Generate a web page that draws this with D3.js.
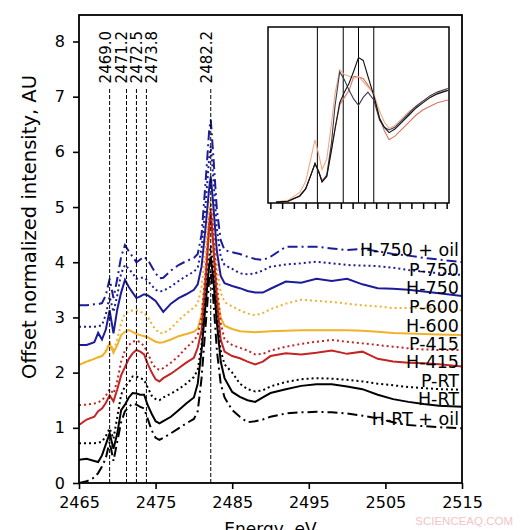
<!DOCTYPE html>
<html>
<head>
<meta charset="utf-8">
<script src="https://cdn.jsdelivr.net/npm/d3@7"></script>
<style>
  body { margin: 0; background: #fff; }
  text { font-family: "DejaVu Sans", sans-serif; fill: #000; }
</style>
</head>
<body>
<svg id="chart" width="528" height="530"></svg>
<script>
// ---- data ----
var energy = [2465, 2466, 2467, 2467.5, 2468, 2468.5,
              2469, 2469.5, 2470, 2470.5, 2471, 2471.5,
              2472, 2472.5, 2473, 2473.5, 2474, 2474.5,
              2475, 2475.5, 2476, 2477, 2478, 2479,
              2480, 2480.5, 2481, 2481.5, 2482, 2482.2,
              2482.5, 2483, 2483.5, 2484, 2485, 2486,
              2487, 2488, 2489, 2490, 2492, 2494,
              2496, 2498, 2500, 2502, 2504, 2506,
              2508, 2510, 2512, 2515];

var h750oil = [3.22, 3.22, 3.24, 3.24, 3.26, 3.40,
               3.70, 3.35, 3.70, 4.10, 4.31, 4.20,
               4.10, 4.00, 4.05, 4.10, 4.04, 3.92,
               3.80, 3.71, 3.72, 3.85, 3.95, 4.02,
               4.08, 4.15, 4.50, 5.40, 6.40, 6.58,
               6.00, 4.95, 4.40, 4.22, 4.18, 4.15,
               4.10, 4.06, 4.04, 4.10, 4.28, 4.28,
               4.28, 4.25, 4.22, 4.24, 4.20, 4.15,
               4.12, 4.08, 4.05, 4.00];
var p750 = [2.83, 2.83, 2.83, 2.84, 2.86, 3.05,
            3.38, 3.10, 3.40, 3.80, 3.95, 3.88,
            3.80, 3.70, 3.72, 3.72, 3.66, 3.58,
            3.50, 3.47, 3.48, 3.56, 3.66, 3.75,
            3.83, 3.90, 4.25, 5.00, 5.90, 6.10,
            5.60, 4.60, 4.10, 3.95, 3.88, 3.80,
            3.78, 3.80, 3.85, 3.92, 3.96, 3.98,
            4.01, 3.98, 3.95, 3.94, 3.93, 3.90,
            3.86, 3.83, 3.80, 3.77];
var h750 = [2.50, 2.50, 2.55, 2.72, 2.60, 2.78,
            3.13, 2.71, 3.15, 3.45, 3.68, 3.55,
            3.45, 3.35, 3.38, 3.42, 3.40, 3.35,
            3.30, 3.20, 3.10, 3.25, 3.35, 3.42,
            3.50, 3.60, 3.92, 4.60, 5.35, 5.55,
            5.10, 4.20, 3.75, 3.62, 3.57, 3.53,
            3.48, 3.45, 3.45, 3.52, 3.65, 3.63,
            3.70, 3.66, 3.70, 3.60, 3.53, 3.52,
            3.50, 3.47, 3.44, 3.39];
var p600 = [2.14, 2.20, 2.25, 2.28, 2.30, 2.40,
            2.55, 2.40, 2.60, 2.90, 3.07, 3.10,
            3.13, 3.13, 3.10, 3.08, 3.00, 2.88,
            2.78, 2.72, 2.71, 2.80, 2.95, 3.07,
            3.18, 3.25, 3.55, 4.20, 4.95, 5.15,
            4.75, 3.95, 3.45, 3.28, 3.20, 3.13,
            3.07, 3.04, 3.08, 3.15, 3.25, 3.32,
            3.30, 3.28, 3.25, 3.22, 3.20, 3.17,
            3.17, 3.17, 3.15, 3.13];
var h600 = [2.14, 2.20, 2.25, 2.28, 2.30, 2.38,
            2.53, 2.36, 2.50, 2.68, 2.74, 2.77,
            2.74, 2.70, 2.68, 2.66, 2.64, 2.60,
            2.56, 2.54, 2.55, 2.60, 2.66, 2.70,
            2.74, 2.80, 3.05, 3.70, 4.55, 4.75,
            4.30, 3.45, 3.00, 2.85, 2.79, 2.75,
            2.74, 2.73, 2.74, 2.75, 2.76, 2.77,
            2.77, 2.77, 2.77, 2.76, 2.74, 2.72,
            2.71, 2.70, 2.69, 2.68];
var p415 = [1.41, 1.42, 1.44, 1.46, 1.50, 1.58,
            1.70, 1.62, 1.85, 2.20, 2.40, 2.50,
            2.56, 2.58, 2.55, 2.48, 2.35, 2.18,
            2.08, 2.05, 2.08, 2.18, 2.30, 2.45,
            2.58, 2.68, 3.00, 3.80, 4.80, 5.05,
            4.60, 3.60, 2.90, 2.60, 2.50, 2.45,
            2.40, 2.33, 2.34, 2.40, 2.47, 2.52,
            2.56, 2.59, 2.56, 2.53, 2.50, 2.47,
            2.44, 2.42, 2.41, 2.41];
var h415 = [1.05, 1.15, 1.20, 1.30, 1.35, 1.45,
            1.59, 1.48, 1.70, 1.95, 2.10, 2.25,
            2.35, 2.41, 2.38, 2.33, 2.15, 2.00,
            1.88, 1.84, 1.90, 1.98, 2.08, 2.18,
            2.27, 2.45, 2.77, 3.60, 4.65, 4.91,
            4.40, 3.30, 2.60, 2.38, 2.30, 2.26,
            2.20, 2.15, 2.20, 2.30, 2.35, 2.33,
            2.36, 2.40, 2.34, 2.38, 2.25, 2.20,
            2.18, 2.17, 2.15, 2.11];
var pRT = [0.72, 0.72, 0.72, 0.73, 0.75, 0.85,
           0.99, 0.80, 1.20, 1.60, 1.75, 1.82,
           1.93, 1.93, 1.90, 1.87, 1.72, 1.58,
           1.52, 1.50, 1.55, 1.62, 1.70, 1.80,
           1.92, 2.05, 2.50, 3.30, 4.10, 4.30,
           3.90, 3.00, 2.40, 2.15, 2.00, 1.80,
           1.70, 1.66, 1.68, 1.75, 1.83, 1.88,
           1.90, 1.89, 1.87, 1.84, 1.80, 1.77,
           1.74, 1.72, 1.70, 1.69];
var hRT = [0.42, 0.44, 0.40, 0.38, 0.50, 0.70,
           0.90, 0.62, 0.90, 1.32, 1.42, 1.55,
           1.63, 1.62, 1.60, 1.60, 1.40, 1.25,
           1.12, 1.08, 1.12, 1.20, 1.32, 1.44,
           1.55, 1.80, 2.40, 3.20, 3.95, 4.10,
           3.75, 2.90, 2.20, 1.90, 1.65, 1.56,
           1.50, 1.47, 1.55, 1.63, 1.70, 1.76,
           1.79, 1.79, 1.75, 1.70, 1.60, 1.52,
           1.47, 1.43, 1.40, 1.38];
var hRToil = [0.00, 0.03, 0.10, 0.18, 0.30, 0.45,
              0.75, 0.40, 0.75, 1.10, 1.30, 1.38,
              1.44, 1.42, 1.38, 1.35, 1.15, 0.95,
              0.82, 0.78, 0.82, 0.90, 0.99, 1.08,
              1.16, 1.30, 1.90, 2.80, 3.70, 3.85,
              3.40, 2.40, 1.80, 1.55, 1.32, 1.20,
              1.10, 1.12, 1.15, 1.20, 1.26, 1.28,
              1.29, 1.28, 1.26, 1.22, 1.17, 1.10,
              1.05, 1.03, 1.01, 0.99];

var seriesLabels = ["H-750 + oil", "P-750", "H-750", "P-600", "H-600",
                    "P-415", "H-415", "P-RT", "H-RT", "H-RT + oil"];
var edgeEnergies = [2469.0, 2471.2, 2472.5, 2473.8, 2482.2];
var xTicks = [2465, 2475, 2485, 2495, 2505, 2515];
var yTicks = [0, 1, 2, 3, 4, 5, 6, 7, 8];

// inset (zoom of the pre-edge, arbitrary units)
var insetEnergy = [2465.5, 2466.5, 2467.5, 2468, 2468.4, 2468.8,
                   2469.1, 2469.4, 2469.8, 2470.2, 2470.5, 2470.9,
                   2471.3, 2471.7, 2472.1, 2472.5, 2472.9, 2473.3,
                   2473.8, 2474.3, 2474.7, 2475.1, 2475.6, 2476.2,
                   2476.8, 2477.4, 2478, 2478.6, 2479.2, 2480.1];
var insetRT = [0.005, 0.01, 0.04, 0.08, 0.15, 0.225,
               0.18, 0.12, 0.15, 0.30, 0.42, 0.57,
               0.63, 0.68, 0.75, 0.826, 0.81, 0.72,
               0.61, 0.48, 0.43, 0.40, 0.42, 0.46,
               0.50, 0.54, 0.57, 0.60, 0.62, 0.64];
var inset750 = [0.005, 0.01, 0.04, 0.08, 0.15, 0.225,
                0.18, 0.12, 0.16, 0.34, 0.55, 0.745,
                0.70, 0.64, 0.59, 0.555, 0.60, 0.63,
                0.585, 0.47, 0.43, 0.415, 0.43, 0.47,
                0.51, 0.55, 0.58, 0.61, 0.63, 0.65];
var inset600 = [0.007, 0.015, 0.06, 0.12, 0.24, 0.358,
                0.28, 0.19, 0.25, 0.45, 0.62, 0.756,
                0.73, 0.72, 0.71, 0.72, 0.69, 0.66,
                0.62, 0.52, 0.46, 0.424, 0.44, 0.48,
                0.52, 0.55, 0.58, 0.60, 0.62, 0.64];
var inset415 = [0.005, 0.01, 0.04, 0.08, 0.15, 0.22,
                0.18, 0.13, 0.15, 0.30, 0.42, 0.557,
                0.60, 0.64, 0.72, 0.715, 0.708, 0.67,
                0.62, 0.48, 0.41, 0.36, 0.38, 0.42,
                0.46, 0.50, 0.53, 0.55, 0.57, 0.585];
var insetTicks = [2465, 2466, 2467, 2468, 2469, 2470, 2471, 2472,
                  2473, 2474, 2475, 2476, 2477, 2478, 2479, 2480];

// ---- drawing ----
var svg = d3.select("#chart");

var blue = "#1c1c98", gold = "#f0b22a", red = "#c42424", black = "#000";
var dotted = "2,3", dashDot = "10,4,2,4";

// plot frame in pixels (note: "top" is taken by window.top)
var padL = 79, padR = 462, padT = 15, padB = 483;

var x = d3.scaleLinear().domain([2465, 2515]).range([padL, padR]);
var y = d3.scaleLinear().domain([0, 8.48]).range([padB, padT]);

svg.append("clipPath").attr("id", "plotClip")
  .append("rect")
    .attr("x", padL).attr("y", padT)
    .attr("width", padR - padL).attr("height", padB - padT);

// style table, drawn bottom to top
var series = [
  {label: seriesLabels[4], values: h600, color: gold, dash: null},
  {label: seriesLabels[3], values: p600, color: gold, dash: dotted},
  {label: seriesLabels[6], values: h415, color: red, dash: null},
  {label: seriesLabels[5], values: p415, color: red, dash: dotted},
  {label: seriesLabels[9], values: hRToil, color: black, dash: dashDot},
  {label: seriesLabels[8], values: hRT, color: black, dash: null},
  {label: seriesLabels[7], values: pRT, color: black, dash: dotted},
  {label: seriesLabels[2], values: h750, color: blue, dash: null},
  {label: seriesLabels[1], values: p750, color: blue, dash: dotted},
  {label: seriesLabels[0], values: h750oil, color: blue, dash: dashDot}
];

var line = d3.line()
  .x(function(d) { return x(d[0]); })
  .y(function(d) { return y(d[1]); });

var plot = svg.append("g").attr("clip-path", "url(#plotClip)");

plot.selectAll("path.curve")
  .data(series)
  .enter()
  .append("path")
    .attr("class", "curve")
    .attr("fill", "none")
    .attr("stroke", function(d) { return d.color; })
    .attr("stroke-width", 2)
    .attr("stroke-dasharray", function(d) { return d.dash; })
    .attr("d", function(d) { return line(d3.zip(energy, d.values)); });

// edge positions: dashed verticals with rotated labels
var edgeTop = 7.15;
var edgeLabelShift = [0, 0, 4.5, 9.5, 0]; // labels nudged apart so they don't collide
plot.selectAll("line.edge")
  .data(edgeEnergies)
  .enter()
  .append("line")
    .attr("class", "edge")
    .attr("x1", function(d) { return x(d); })
    .attr("x2", function(d) { return x(d); })
    .attr("y1", y(0))
    .attr("y2", y(edgeTop))
    .attr("stroke", "#000")
    .attr("stroke-width", 1)
    .attr("stroke-dasharray", "4,2");

svg.selectAll("text.edge")
  .data(edgeEnergies)
  .enter()
  .append("text")
    .attr("class", "edge")
    .attr("transform", function(d, i) {
      return "translate(" + (x(d) + 1 + edgeLabelShift[i]) + "," + (y(edgeTop) - 5) + ") rotate(-90)";
    })
    .style("font-size", "15px")
    .text(function(d) { return d.toFixed(1); });

// curve labels, right aligned against the frame
var labelLevels = [4.22, 3.86, 3.53, 3.19, 2.85, 2.52, 2.19, 1.85, 1.52, 1.17];
svg.selectAll("text.name")
  .data(seriesLabels)
  .enter()
  .append("text")
    .attr("class", "name")
    .attr("x", padR - 3)
    .attr("y", function(d, i) { return y(labelLevels[i]); })
    .attr("dy", "0.36em")
    .attr("text-anchor", "end")
    .style("font-size", "17.5px")
    .text(function(d) { return d; });

// axes
var xAxis = svg.append("g")
  .attr("transform", "translate(0," + padB + ")")
  .call(d3.axisBottom(x).tickValues(xTicks).tickSize(6).tickPadding(8).tickFormat(d3.format("d")));
var yAxis = svg.append("g")
  .attr("transform", "translate(" + padL + ",0)")
  .call(d3.axisLeft(y).tickValues(yTicks).tickSize(6).tickPadding(8).tickFormat(d3.format("d")));

[xAxis, yAxis].forEach(function(g) {
  g.select(".domain").remove();
  g.selectAll(".tick line").attr("stroke", "#000").attr("stroke-width", 1.6);
  g.selectAll(".tick text").style("font-size", "16px").style("font-family", "DejaVu Sans, sans-serif");
});

svg.append("rect")
  .attr("x", padL).attr("y", padT)
  .attr("width", padR - padL).attr("height", padB - padT)
  .attr("fill", "none").attr("stroke", "#000").attr("stroke-width", 1.8);

svg.append("text")
  .attr("transform", "translate(36,227) rotate(-90)")
  .attr("text-anchor", "middle")
  .style("font-size", "19.5px")
  .text("Offset normalized intensity, AU");

// cut off by the bottom edge, as in the source figure
svg.append("text")
  .attr("x", (padL + padR) / 2)
  .attr("y", 535)
  .attr("text-anchor", "middle")
  .style("font-size", "17px")
  .text("Energy, eV");

// ---- inset ----
var ix = d3.scaleLinear().domain([2464.8, 2480.2]).range([268, 449]);
var iy = d3.scaleLinear().domain([0, 1]).range([203, 27]);

var inset = svg.append("g");
inset.append("rect")
  .attr("x", 268).attr("y", 27).attr("width", 449 - 268).attr("height", 203 - 27)
  .attr("fill", "#fff");

inset.append("clipPath").attr("id", "insetClip")
  .append("rect")
    .attr("x", 268).attr("y", 27).attr("width", 449 - 268).attr("height", 203 - 27);

var insetSeries = [
  {values: inset415, color: "#d8735f"},
  {values: inset600, color: "#eeaa82"},
  {values: inset750, color: "#3a3a50"},
  {values: insetRT, color: "#111"}
];

var iline = d3.line()
  .x(function(d) { return ix(d[0]); })
  .y(function(d) { return iy(d[1]); });

var ip = inset.append("g").attr("clip-path", "url(#insetClip)");
ip.selectAll("line.edge")
  .data(edgeEnergies.slice(0, 4))
  .enter()
  .append("line")
    .attr("x1", function(d) { return ix(d); })
    .attr("x2", function(d) { return ix(d); })
    .attr("y1", 27).attr("y2", 203)
    .attr("stroke", "#000").attr("stroke-width", 1);

ip.selectAll("path.icurve")
  .data(insetSeries)
  .enter()
  .append("path")
    .attr("class", "icurve")
    .attr("fill", "none")
    .attr("stroke", function(d) { return d.color; })
    .attr("stroke-width", 1.1)
    .attr("d", function(d) { return iline(d3.zip(insetEnergy, d.values)); });

inset.append("g")
  .attr("transform", "translate(0,203)")
  .call(d3.axisBottom(ix).tickValues(insetTicks).tickSize(6).tickFormat(""))
  .call(function(g) {
    g.select(".domain").remove();
    g.selectAll(".tick line").attr("stroke", "#000").attr("stroke-width", 1.5);
  });

inset.append("rect")
  .attr("x", 268).attr("y", 27).attr("width", 449 - 268).attr("height", 203 - 27)
  .attr("fill", "none").attr("stroke", "#000").attr("stroke-width", 1.5);

// source mark in the corner
svg.append("text")
  .attr("x", 513).attr("y", 525)
  .attr("text-anchor", "end")
  .style("font-family", "Liberation Sans, sans-serif")
  .style("font-size", "11.5px")
  .style("fill", "#f3c4c8")
  .text("SCIENCEAQ.COM");
</script>
</body>
</html>
